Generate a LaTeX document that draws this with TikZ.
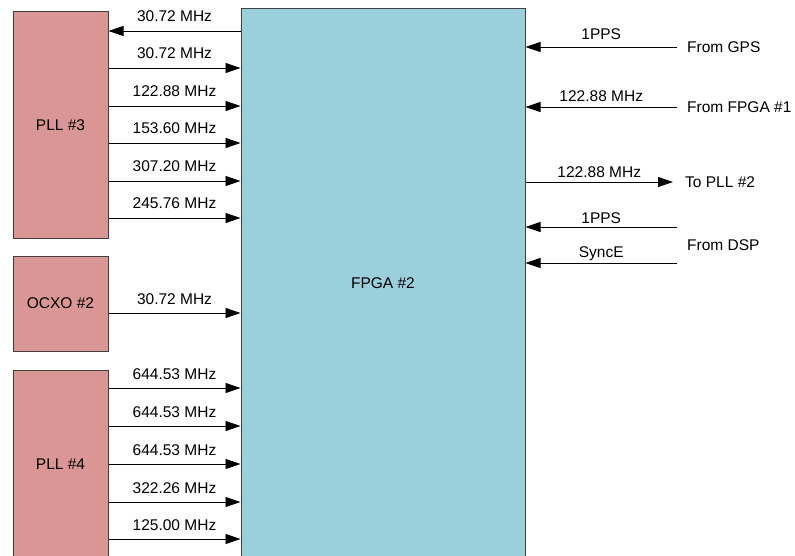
\documentclass[tikz,border=0pt]{standalone}
\usepackage{fontspec}
\setmainfont{Liberation Sans}
\usetikzlibrary{arrows.meta,positioning}
\definecolor{pllred}{HTML}{D99694}
\definecolor{fpgablue}{HTML}{9ACFDC}
\definecolor{edgegray}{HTML}{404040}
\newcommand{\lbl}{\fontsize{15.5}{18}\selectfont}
\tikzset{
  >={Triangle[length=15pt,width=10pt]},
  sig/.style={->,line width=0.9pt,draw=black},
  blk/.style={draw=edgegray,line width=1pt,fill=pllred,minimum width=95pt,font=\lbl},
  fpgabox/.style={blk,fill=fpgablue,minimum width=284pt},
  freq/.style={anchor=base,yshift=9pt,font=\lbl,inner sep=0pt},
  ext/.style={anchor=west,inner xsep=10pt,font=\lbl}
}

\begin{document}
\begin{tikzpicture}[x=1pt,y=-1pt]
  \useasboundingbox (0,0) rectangle (795,556);
  \clip (0,0) rectangle (795,556);
  \node[blk,minimum height=226pt] (pll3) at (60.5,125) {PLL \#3};
  \node[blk,minimum height=95pt] (ocxo) at (60.5,303.5) {OCXO \#2};
  \node[blk,minimum height=188pt] (pll4) at (60.5,464) {PLL \#4};
  \node[fpgabox,minimum height=549pt] (fpga) at (383,283.5) {FPGA \#2};
  % PLL #3 clocks
  \draw[sig] (fpga.west |- 0,31) -- node[freq]{30.72 MHz} (pll3.east |- 0,31);
  \foreach \y/\f in {68/30.72,106/122.88,143/153.60,181/307.20,218/245.76}
    \draw[sig] (pll3.east |- 0,\y) -- node[freq]{\f{} MHz} (fpga.west |- 0,\y);
  % OCXO
  \draw[sig] (ocxo.east |- 0,313) -- node[freq]{30.72 MHz} (fpga.west |- 0,313);
  % PLL #4 clocks
  \foreach \y/\f in {388/644.53,426/644.53,464/644.53,502/322.26,539/125.00}
    \draw[sig] (pll4.east |- 0,\y) -- node[freq]{\f{} MHz} (fpga.west |- 0,\y);
  % right side
  \node[ext] (gps) at (677,47) {From GPS};
  \node[ext] (fpga1) at (677,107) {From FPGA \#1};
  \node[ext,inner xsep=12pt] (pll2) at (673,182) {To PLL \#2};
  \node[ext] (dsp) at (677,245) {From DSP};
  \draw[sig] (gps.west) -- node[freq,yshift=-2pt]{1PPS} (fpga.east |- gps.west);
  \draw[sig] (fpga1.west) -- node[freq,yshift=-4pt]{122.88 MHz} (fpga.east |- fpga1.west);
  \draw[sig] (fpga.east |- pll2.west) -- node[freq,yshift=-5pt]{122.88 MHz} (pll2.west);
  \draw[sig] (dsp.west |- 0,227) -- node[freq,yshift=-5pt]{1PPS} (fpga.east |- 0,227);
  \draw[sig] (dsp.west |- 0,263) -- node[freq,yshift=-3pt]{SyncE} (fpga.east |- 0,263);
\end{tikzpicture}
\end{document}
